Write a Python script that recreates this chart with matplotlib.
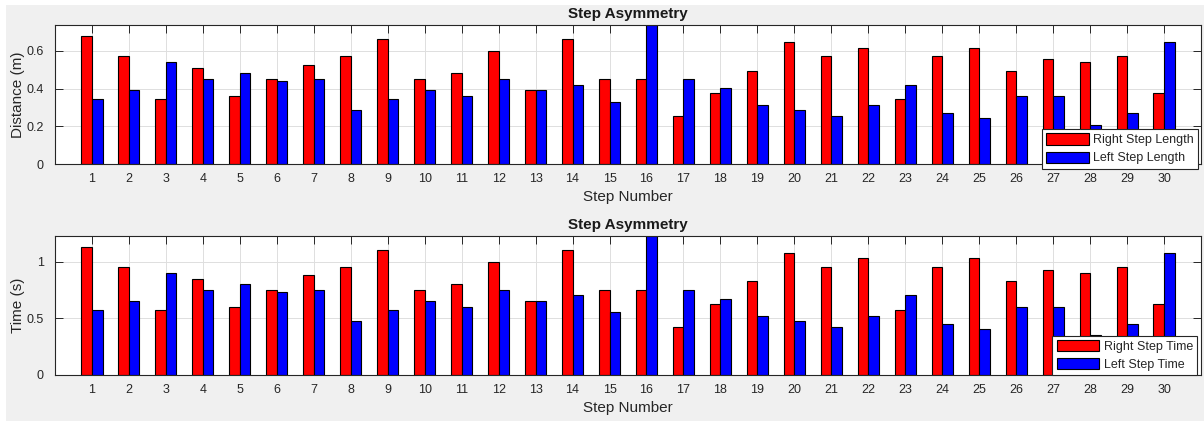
import matplotlib
matplotlib.use("Agg")
import matplotlib.pyplot as plt
import numpy as np
from matplotlib.patches import Rectangle
from matplotlib.ticker import FormatStrFormatter

plt.rcParams['font.family'] = ['Liberation Sans', 'DejaVu Sans']

steps = list(range(1, 31))
right_length = [0.679, 0.571, 0.344, 0.511, 0.360, 0.450, 0.527, 0.571, 0.663, 0.450,
                0.483, 0.600, 0.393, 0.663, 0.450, 0.450, 0.254, 0.376, 0.494, 0.646,
                0.571, 0.617, 0.344, 0.571, 0.617, 0.494, 0.556, 0.540, 0.571, 0.376]
left_length = [0.344, 0.393, 0.540, 0.450, 0.483, 0.439, 0.450, 0.287, 0.344, 0.393,
               0.360, 0.450, 0.393, 0.421, 0.331, 0.737, 0.450, 0.405, 0.315, 0.287,
               0.254, 0.315, 0.421, 0.270, 0.243, 0.360, 0.360, 0.208, 0.270, 0.646]
right_time = [1.133, 0.953, 0.569, 0.850, 0.596, 0.749, 0.879, 0.953, 1.103, 0.749,
              0.802, 1.000, 0.655, 1.103, 0.749, 0.749, 0.422, 0.625, 0.826, 1.077,
              0.953, 1.029, 0.569, 0.953, 1.029, 0.826, 0.926, 0.900, 0.953, 0.625]
left_time = [0.569, 0.655, 0.900, 0.749, 0.805, 0.729, 0.749, 0.475, 0.569, 0.655,
             0.599, 0.749, 0.655, 0.702, 0.552, 1.227, 0.749, 0.673, 0.522, 0.475,
             0.422, 0.522, 0.702, 0.448, 0.401, 0.599, 0.599, 0.347, 0.448, 1.077]

title = "Step Asymmetry"
xlabel = "Step Number"
top_ylabel = "Distance (m)"
bot_ylabel = "Time (s)"
top_legend = ["Right Step Length", "Left Step Length"]
bot_legend = ["Right Step Time", "Left Step Time"]
top_yticks = [0, 0.2, 0.4, 0.6]
bot_yticks = [0, 0.5, 1]

W, H = 1204, 421
fig = plt.figure(figsize=(W / 100, H / 100), dpi=100, facecolor='#f0f0f0')
fig.add_artist(Rectangle((0, 0), 6 / W, 1, transform=fig.transFigure,
                         facecolor='white', edgecolor='none', zorder=-10))
fig.add_artist(Rectangle((0, 1 - 5 / H), 1, 5 / H, transform=fig.transFigure,
                         facecolor='white', edgecolor='none', zorder=-10))

left = 55 / W
width = (1201 - 55) / W
ax1 = fig.add_axes([left, 1 - 164.3 / H, width, (164.3 - 25) / H])
ax2 = fig.add_axes([left, 1 - 374.7 / H, width, (374.7 - 236) / H])

dark = '#262626'
bw = 2 / 3.5 / 2
x = np.array(steps)


def draw(ax, r, l, ylabel, yticks, labels, leg_xy):
    b1 = ax.bar(x - bw / 2, r, bw, color='#ff0000', edgecolor='black', linewidth=0.8, label=labels[0])
    b2 = ax.bar(x + bw / 2, l, bw, color='#0000ff', edgecolor='black', linewidth=0.8, label=labels[1])
    ax.set_xlim(0, 31)
    ax.set_ylim(0, max(max(r), max(l)))
    ax.set_xticks(steps)
    ax.set_yticks(yticks)
    ax.yaxis.set_major_formatter(FormatStrFormatter('%g'))
    ax.set_axisbelow(True)
    ax.grid(True, color='#dedede', linewidth=0.7)
    ax.tick_params(direction='in', top=True, right=True, length=6, width=0.7,
                   color=dark, labelcolor=dark, labelsize=9)
    ax.tick_params(axis='x', pad=6.5)
    ax.tick_params(axis='y', pad=8)
    for s in ax.spines.values():
        s.set_color(dark)
        s.set_linewidth(0.8)
    ax.set_title(title, fontsize=11, fontweight='bold', color='#1a1a1a', pad=4.8)
    ax.set_xlabel(xlabel, fontsize=11, color=dark, labelpad=3.5)
    ax.set_ylabel(ylabel, fontsize=11, color=dark)
    ax.yaxis.set_label_coords(-0.026, 0.5)
    leg = ax.legend(handles=[b1, b2], loc='upper left',
                    bbox_to_anchor=(leg_xy[0] / W, 1 - leg_xy[1] / H),
                    bbox_transform=fig.transFigure, borderaxespad=0,
                    fontsize=9, fancybox=False, framealpha=1, handlelength=3.4,
                    handleheight=1.0, handletextpad=0.35, labelspacing=0.42,
                    borderpad=0.35)
    leg.get_frame().set_edgecolor(dark)
    leg.get_frame().set_linewidth(0.8)
    for t in leg.get_texts():
        t.set_color(dark)


draw(ax1, right_length, left_length, top_ylabel, top_yticks, top_legend, (1041.7, 129))
draw(ax2, right_time, left_time, bot_ylabel, bot_yticks, bot_legend, (1052.3, 335.7))

fig.savefig('out.png', dpi=100, facecolor=fig.get_facecolor())
